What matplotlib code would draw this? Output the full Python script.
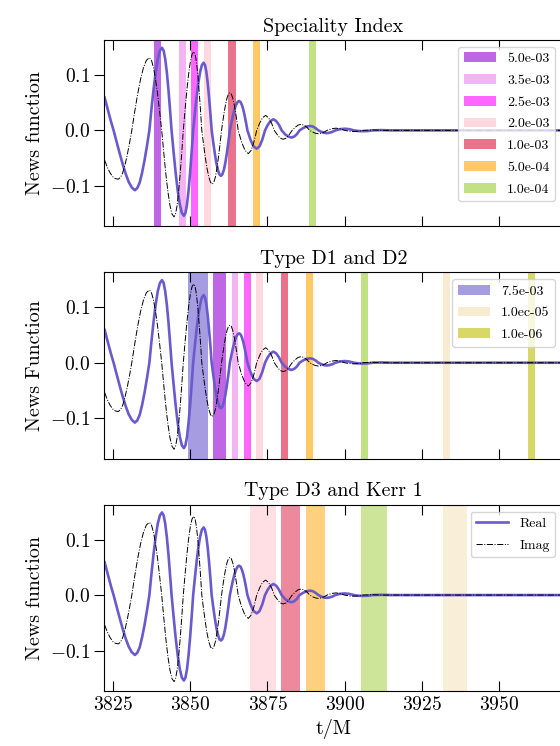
import numpy as np
import matplotlib.pyplot as plt

plt.rcParams['font.family'] = 'serif'
plt.rcParams['font.serif'] = ['cmr10']
plt.rcParams['mathtext.fontset'] = 'cm'
plt.rcParams['axes.formatter.use_mathtext'] = True

# real part of the news function
t_real = [3822.2, 3823.2, 3824.2, 3825.1, 3826.0, 3827.0, 3828.0, 3829.0, 3830.0, 3831.0,
          3832.0, 3832.78, 3833.57, 3834.35, 3835.13, 3835.92, 3836.7, 3837.38, 3838.07, 3838.75,
          3839.43, 3840.12, 3840.8, 3841.32, 3841.83, 3842.35, 3842.87, 3843.38, 3843.9, 3844.57,
          3845.23, 3845.9, 3846.57, 3847.23, 3847.9, 3848.4, 3848.9, 3849.4, 3849.9, 3850.4,
          3850.9, 3851.47, 3852.03, 3852.6, 3853.17, 3853.73, 3854.3, 3854.73, 3855.17, 3855.6,
          3856.03, 3856.47, 3856.9, 3857.4, 3857.9, 3858.4, 3858.9, 3859.4, 3859.9, 3860.38,
          3860.87, 3861.35, 3861.83, 3862.32, 3862.8, 3863.3, 3863.8, 3864.3, 3864.8, 3865.3,
          3865.8, 3866.25, 3866.7, 3867.15, 3867.6, 3868.05, 3868.5, 3869.5, 3870.5, 3871.5,
          3872.4, 3873.3, 3874.2, 3875.1, 3876.0, 3876.9, 3877.8, 3878.7, 3879.6, 3880.7,
          3881.7, 3882.8, 3883.7, 3884.5, 3885.4, 3886.5, 3887.7, 3888.8, 3889.7, 3890.6,
          3891.5, 3892.4, 3893.3, 3894.2, 3895.1, 3896.1, 3897.0, 3898.5, 3900.0, 3901.5,
          3903.0, 3904.5, 3906.0, 3907.5, 3909.0, 3912.0, 3915.0, 3920.0, 3930.0, 3940.0,
          3950.0, 3960.0, 3971.0]
news_real = [0.059, 0.038, 0.017, 0.000, -0.019, -0.040, -0.060, -0.078, -0.093, -0.103,
             -0.108, -0.104, -0.094, -0.076, -0.054, -0.028, 0.000, 0.0386, 0.0745, 0.1054,
             0.1290, 0.1439, 0.149, 0.1439, 0.1290, 0.1054, 0.0745, 0.0386, 0.000, -0.0399,
             -0.077, -0.1089, -0.1334, -0.1488, -0.154, -0.1488, -0.1334, -0.1089, -0.077, -0.0399,
             0.000, 0.0316, 0.061, 0.0863, 0.1057, 0.1178, 0.122, 0.1178, 0.1057, 0.0863,
             0.061, 0.0316, 0.000, -0.0212, -0.041, -0.058, -0.071, -0.0792, -0.082, -0.0792,
             -0.071, -0.058, -0.041, -0.0212, 0.000, 0.0137, 0.0265, 0.0375, 0.0459, 0.0512,
             0.053, 0.0512, 0.0459, 0.0375, 0.0265, 0.0137, 0.000, -0.017, -0.029, -0.033,
             -0.029, -0.017, 0.000, 0.010, 0.017, 0.020, 0.017, 0.010, 0.000, -0.007,
             -0.011, -0.013, -0.011, -0.007, 0.000, 0.004, 0.007, 0.008, 0.007, 0.004,
             0.000, -0.0025, -0.0043, -0.005, -0.0043, -0.0025, 0.000, 0.0022, 0.003, 0.0022,
             0.000, -0.0012, -0.0015, -0.0012, 0.000, 0.0005, 0.000, 0.000, 0.000, 0.000,
             0.000, 0.000, 0.000]

# imaginary part of the news function
t_imag = [3822.2, 3823.1, 3824.0, 3824.9, 3825.7, 3826.6, 3827.33, 3828.07, 3828.8, 3829.53,
          3830.27, 3831.0, 3831.95, 3832.9, 3833.85, 3834.8, 3835.75, 3836.7, 3837.37, 3838.03,
          3838.7, 3839.37, 3840.03, 3840.7, 3841.37, 3842.03, 3842.7, 3843.37, 3844.03, 3844.7,
          3845.2, 3845.7, 3846.2, 3846.7, 3847.2, 3847.7, 3848.27, 3848.83, 3849.4, 3849.97,
          3850.53, 3851.1, 3851.53, 3851.97, 3852.4, 3852.83, 3853.27, 3853.7, 3854.27, 3854.83,
          3855.4, 3855.97, 3856.53, 3857.1, 3857.6, 3858.1, 3858.6, 3859.1, 3859.6, 3860.1,
          3860.55, 3861.0, 3861.45, 3861.9, 3862.35, 3862.8, 3863.25, 3863.7, 3864.15, 3864.6,
          3865.05, 3865.5, 3866.6, 3867.7, 3868.8, 3869.7, 3870.6, 3871.5, 3872.5, 3873.4,
          3874.4, 3875.3, 3876.3, 3877.2, 3878.2, 3879.1, 3880.1, 3881.1, 3882.0, 3883.0,
          3884.0, 3884.9, 3885.9, 3886.8, 3887.8, 3888.7, 3889.6, 3890.6, 3891.5, 3892.4,
          3893.4, 3894.3, 3895.7, 3897.2, 3898.6, 3900.0, 3901.5, 3903.0, 3904.5, 3906.0,
          3909.0, 3912.0, 3920.0, 3930.0, 3940.0, 3950.0, 3960.0, 3971.0]
news_imag = [-0.054, -0.067, -0.077, -0.084, -0.087, -0.088, -0.085, -0.0762, -0.0622, -0.044,
             -0.0228, 0.000, 0.0339, 0.0655, 0.0926, 0.1134, 0.1265, 0.131, 0.1265, 0.1134,
             0.0926, 0.0655, 0.0339, 0.000, -0.0404, -0.078, -0.1103, -0.1351, -0.1507, -0.156,
             -0.1507, -0.1351, -0.1103, -0.078, -0.0404, 0.000, 0.0368, 0.071, 0.1004, 0.123,
             0.1372, 0.142, 0.1372, 0.123, 0.1004, 0.071, 0.0368, 0.000, -0.0251, -0.0485,
             -0.0686, -0.084, -0.0937, -0.097, -0.0937, -0.084, -0.0686, -0.0485, -0.0251, 0.000,
             0.0176, 0.034, 0.0481, 0.0589, 0.0657, 0.068, 0.0657, 0.0589, 0.0481, 0.034,
             0.0176, 0.000, -0.021, -0.036, -0.042, -0.036, -0.021, 0.000, 0.0135, 0.023,
             0.027, 0.023, 0.0135, 0.000, -0.008, -0.014, -0.016, -0.014, -0.008, 0.000,
             0.0055, 0.0095, 0.011, 0.0095, 0.0055, 0.000, -0.003, -0.0052, -0.006, -0.0052,
             -0.003, 0.000, 0.0028, 0.004, 0.0028, 0.000, -0.0015, -0.002, -0.0015, 0.000,
             0.0008, 0.000, 0.000, 0.000, 0.000, 0.000, 0.000, 0.000]

titles = ['Speciality Index', 'Type D1 and D2', 'Type D3 and Kerr 1']
ylabels = ['News function', 'News Function', 'News function']

# time windows where each criterion is satisfied
spec_start = [3838.3, 3846.3, 3850.2, 3854.3, 3862.3, 3870.3, 3888.5]
spec_end = [3840.5, 3848.5, 3852.6, 3856.7, 3864.7, 3872.7, 3890.6]
spec_labels = ['5.0e-03', '3.5e-03', '2.5e-03', '2.0e-03', '1.0e-03', '5.0e-04', '1.0e-04']

d12_start = [3849.3, 3857.4, 3863.4, 3867.3, 3871.3, 3879.4, 3887.4, 3905.3, 3931.9, 3959.6]
d12_end = [3855.6, 3861.5, 3865.5, 3869.6, 3873.6, 3881.5, 3889.8, 3907.7, 3934.1, 3961.7]
d12_labels = ['7.5e-03', None, None, None, None, None, None, None, '1.0ec-05', '1.0e-06']

d3_start = [3869.4, 3879.4, 3887.4, 3905.3, 3931.9]
d3_end = [3877.7, 3885.5, 3893.6, 3913.8, 3939.8]

spec_colors = ['darkviolet', 'violet', 'magenta', 'pink', 'crimson', 'orange', 'yellowgreen']
d12_colors = ['slateblue', 'darkviolet', 'violet', 'magenta', 'pink', 'crimson', 'orange',
              'yellowgreen', 'wheat', 'y']
d3_colors = ['pink', 'crimson', 'orange', 'yellowgreen', 'wheat']

fig, axes = plt.subplots(3, 1, sharex=True, figsize=(5.6, 7.46), dpi=100)
fig.subplots_adjust(left=0.1866, right=1.0036, top=0.9464, bottom=0.0737, hspace=0.247)

bands = [
    (spec_start, spec_end, spec_colors, spec_labels, 0.6),
    (d12_start, d12_end, d12_colors, d12_labels, 0.6),
    (d3_start, d3_end, d3_colors, [None] * len(d3_start), 0.5),
]

for ax, (starts, ends, cols, labs, alpha), title, ylab in zip(axes, bands, titles, ylabels):
    for a, b, c, lab in zip(starts, ends, cols, labs):
        ax.axvspan(a, b, color=c, alpha=alpha, lw=0, label=lab, zorder=1)
    ax.plot(t_real, news_real, color='slateblue', lw=1.9, label='Real', zorder=2)
    ax.plot(t_imag, news_imag, color='black', ls='-.', lw=0.7, label='Imag', zorder=3)
    ax.set_title(title, fontsize=14.4)
    ax.set_ylabel(ylab, fontsize=14.4)
    ax.set_ylim(-0.173, 0.163)
    ax.set_yticks([-0.1, 0.0, 0.1])
    ax.yaxis.set_major_formatter(plt.FuncFormatter(lambda v, p: '$%.1f$' % (0.0 if abs(v) < 1e-9 else v)))
    ax.tick_params(axis='x', direction='in', top=True, length=7, labelsize=14)
    ax.tick_params(axis='y', direction='out', length=7, labelsize=14)

axes[0].set_xlim(3822.15, 3970.5)

leg_kw = dict(loc='upper right', fontsize=10, handlelength=2.3, labelspacing=0.65)
h, l = axes[0].get_legend_handles_labels()
axes[0].legend(h[:7], l[:7], **leg_kw)
h, l = axes[1].get_legend_handles_labels()
axes[1].legend(h[:3], l[:3], **leg_kw)
h, l = axes[2].get_legend_handles_labels()
axes[2].legend(h, l, **leg_kw)

axes[2].set_xlabel('t/M', fontsize=14.4)
axes[2].set_xticks([3825, 3850, 3875, 3900, 3925, 3950])

fig.savefig('out.png', dpi=100)
